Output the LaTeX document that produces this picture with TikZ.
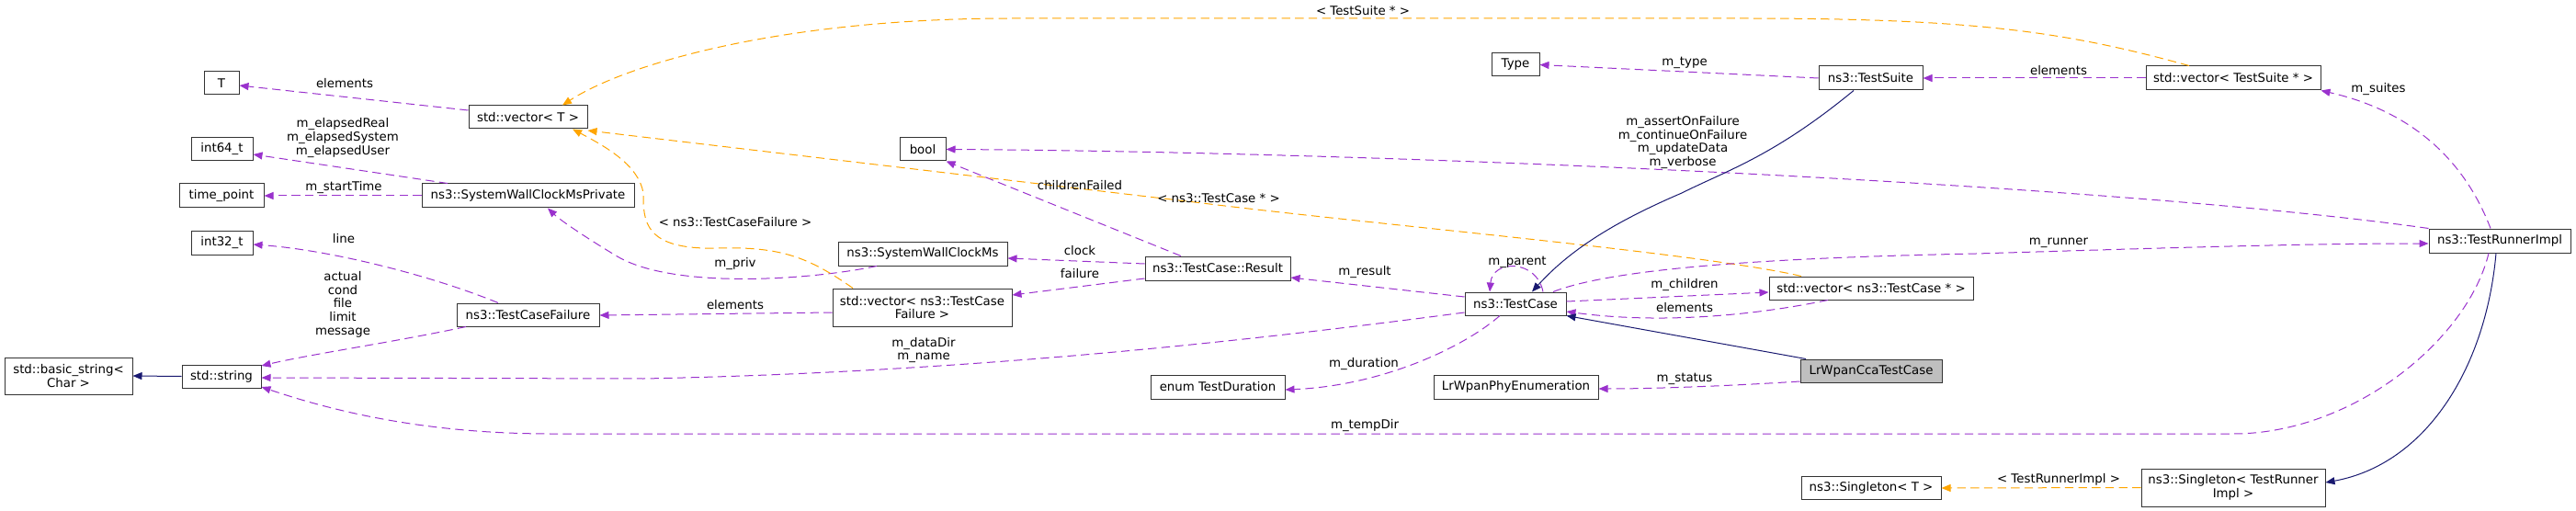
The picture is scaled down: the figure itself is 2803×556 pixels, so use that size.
\documentclass[tikz,border=0pt]{standalone}
\usepackage{fontspec}
\setmainfont{DejaVu Sans}
\usetikzlibrary{arrows.meta,calc}
\definecolor{pur}{HTML}{9A32CD}
\definecolor{org}{HTML}{FFA500}
\definecolor{nav}{HTML}{191970}
\definecolor{gfill}{HTML}{BFBFBF}
\begin{document}
\begin{tikzpicture}[x=0.75pt,y=-0.75pt,
  box/.style={draw=black!80, line width=0.75pt, fill=white, inner sep=0pt, align=center,
    font=\fontsize{10pt}{11pt}\selectfont},
  bw/.style={minimum width=#1*0.75pt},
  bh/.style={minimum height=#1*0.75pt},
  lbl/.style={inner sep=0pt, align=center, font=\fontsize{10pt}{11pt}\selectfont},
  tip/.style={-{Triangle[length=7.5pt,width=6pt]}},
  use/.style={draw=pur, line width=0.75pt, dash pattern=on 7pt off 4pt, tip},
  tmpl/.style={draw=org, line width=0.75pt, dash pattern=on 7pt off 4pt, tip},
  inh/.style={draw=nav, line width=0.75pt, tip}]
\useasboundingbox (0,0) rectangle (2803,556);
% nodes
\node[box,bw=38,bh=25] (T) at (241,90.5) {T};
\node[box,bw=129,bh=25] (vecT) at (574.5,127.5) {std::vector< T >};
\node[box,bw=67,bh=25] (i64) at (241.5,162.5) {int64\_t};
\node[box,bw=92,bh=26] (tp) at (241,213) {time\_point};
\node[box,bw=231,bh=26] (SWCMP) at (574.5,213) {ns3::SystemWallClockMsPrivate};
\node[box,bw=67,bh=26] (i32) at (241.5,264) {int32\_t};
\node[box,bw=139,bh=40] (bstr) at (74.5,409) {std::basic\_string<\\Char >};
\node[box,bw=86,bh=25] (str) at (241,409.5) {std::string};
\node[box,bw=155,bh=25] (TCF) at (574.5,342.5) {ns3::TestCaseFailure};
\node[box,bw=50,bh=25] (bool) at (1004,162.5) {bool};
\node[box,bw=184,bh=26] (SWCM) at (1004,276) {ns3::SystemWallClockMs};
\node[box,bw=158,bh=26] (Res) at (1325,292) {ns3::TestCase::Result};
\node[box,bw=195,bh=41] (vecTCF) at (1003.5,334.5) {std::vector< ns3::TestCase\\Failure >};
\node[box,bw=146,bh=26] (enumTD) at (1325,421) {enum TestDuration};
\node[box,bw=52,bh=25] (Type) at (1649,70.5) {Type};
\node[box,bw=113,bh=26] (TS) at (2035.5,85) {ns3::TestSuite};
\node[box,bw=110,bh=25] (TC) at (1649,330.5) {ns3::TestCase};
\node[box,bw=222,bh=25] (vecTC) at (2036,313.5) {std::vector< ns3::TestCase * >};
\node[box,bw=154,bh=25,fill=gfill] (LW) at (2036,403.5) {LrWpanCcaTestCase};
\node[box,bw=179,bh=26] (LPE) at (1649.5,421) {LrWpanPhyEnumeration};
\node[box,bw=152,bh=25] (SingT) at (2036,530.5) {ns3::Singleton< T >};
\node[box,bw=190,bh=26] (vecTS) at (2430,85) {std::vector< TestSuite * >};
\node[box,bw=154,bh=26] (TRI) at (2720,262) {ns3::TestRunnerImpl};
\node[box,bw=200,bh=41] (SingTRI) at (2430,530.5) {ns3::Singleton< TestRunner\\Impl >};
% edges
\draw[use] (vecT.west |- 0,120) -- (T.east |- 0,93);
\draw[use] (SWCMP.north -| 487,0) -- (i64.east |- 0,168);
\draw[use] (SWCMP.west) -- (tp.east);
\draw[use] (TCF.north -| 542,0) .. controls (470,300) and (360,272) .. (i32.east |- 0,266);
\draw[use] (TCF.south -| 507,0) .. controls (430,372) and (340,385) .. (str.east |- 0,398);
\draw[inh] (str.west) -- (bstr.east);
\draw[use] (TC.west |- 0,340) .. controls (1350,372) and (1050,405) .. (700,412) -- (str.east |- 0,411);
\draw[use] (TRI.south -| 2708,0) .. controls (2685,370) and (2560,472) .. (2430,472) -- (600,472) .. controls (470,472) and (370,450) .. (str.east |- 0,421);
\draw[use] (vecTCF.west |- 0,340) -- (TCF.east |- 0,343);
\draw[use] (Res.west |- 0,303) -- (vecTCF.east |- 0,321);
\draw[use] (Res.west |- 0,287) -- (SWCM.east |- 0,281);
\draw[use] (SWCM.south -| 954,0) .. controls (880,305) and (730,315) .. (670,278) .. controls (640,260) and (610,240) .. (SWCMP.south -| 596,0);
\draw[use] (Res.north -| 1285,0) -- (bool.south east);
\draw[use] (TRI.north west) .. controls (2300,200) and (1500,165) .. (bool.east);
\draw[tmpl] (vecTCF.north -| 928,0) .. controls (880,280) and (850,268) .. (780,270) .. controls (700,272) and (700,240) .. (700,210) .. controls (695,180) and (660,160) .. (vecT.south -| 623,0);
\draw[tmpl] (vecTC.north -| 1960,0) .. controls (1850,275) and (1500,245) .. (1300,220) -- (vecT.east |- 0,142);
\draw[tmpl] (vecTS.north -| 2382,0) .. controls (2250,35) and (2150,20) .. (1900,20) -- (1100,20) .. controls (850,20) and (680,70) .. (vecT.north -| 612,0);
\draw[use] (TS.west) -- (Type.east);
\draw[use] (vecTS.west) -- (TS.east);
\draw[use] (TRI.north -| 2710,0) .. controls (2680,170) and (2620,120) .. (vecTS.south east);
\draw[inh] (TS.south -| 2017,0) .. controls (1930,170) and (1880,185) .. (1830,210) .. controls (1760,240) and (1710,270) .. (TC.north -| 1667,0);
\draw[use] (TC.north -| 1679,0) .. controls (1672,282) and (1624,282) .. (TC.north -| 1621,0);
\draw[use] (TC.west |- 0,323) -- (Res.east |- 0,302);
\draw[use] (TC.east |- 0,328) -- (vecTC.west |- 0,318);
\draw[use] (vecTC.south -| 1989,0) .. controls (1900,345) and (1800,352) .. (TC.east |- 0,339);
\draw[inh] (LW.north -| 1965,0) -- (TC.south east);
\draw[use] (LW.west |- 0,415) .. controls (1880,420) and (1800,423) .. (LPE.east |- 0,423);
\draw[use] (TC.south -| 1632,0) .. controls (1590,380) and (1500,420) .. (enumTD.east |- 0,424);
\draw[use] (TC.north -| 1690,0) .. controls (1760,290) and (1950,280) .. (2150,276) .. controls (2350,270) and (2500,265) .. (TRI.west |- 0,265);
\draw[inh] (TRI.south -| 2716,0) .. controls (2705,400) and (2640,505) .. (SingTRI.east |- 0,525);
\draw[tmpl] (SingTRI.west) -- (SingT.east |- 0,531);
% labels
\node[lbl] (l1) at (375,91) {elements};
\node[lbl] (l2) at (373,150) {m\_elapsedReal\\m\_elapsedSystem\\m\_elapsedUser};
\node[lbl] (l3) at (374,204) {m\_startTime};
\node[lbl] (l4) at (374,260) {line};
\node[lbl] (l5) at (373,331) {actual\\cond\\file\\limit\\message};
\node[lbl] (l6) at (800,242) {< ns3::TestCaseFailure >};
\node[lbl] (l7) at (800,287) {m\_priv};
\node[lbl] (l8) at (800,332) {elements};
\node[lbl] (l9) at (1005,381) {m\_dataDir\\m\_name};
\node[lbl] (l10) at (1175,202) {childrenFailed};
\node[lbl] (l11) at (1175,273) {clock};
\node[lbl] (l12) at (1175,298) {failure};
\node[lbl] (l13) at (1326,216) {< ns3::TestCase * >};
\node[lbl] (l14) at (1483,12) {< TestSuite * >};
\node[lbl] (l15) at (1485,296) {m\_result};
\node[lbl] (l16) at (1484,396) {m\_duration};
\node[lbl] (l17) at (1485,463) {m\_tempDir};
\node[lbl] (l18) at (1833,68) {m\_type};
\node[lbl] (l19) at (1831,155) {m\_assertOnFailure\\m\_continueOnFailure\\m\_updateData\\m\_verbose};
\node[lbl] (l20) at (1651,285) {m\_parent};
\node[lbl] (l21) at (1833,310) {m\_children};
\node[lbl] (l22) at (1833,335) {elements};
\node[lbl] (l23) at (1833,412) {m\_status};
\node[lbl] (l24) at (2240,77) {elements};
\node[lbl] (l25) at (2588,97) {m\_suites};
\node[lbl] (l26) at (2240,264) {m\_runner};
\node[lbl] (l27) at (2240,522) {< TestRunnerImpl >};
\end{tikzpicture}
\end{document}
